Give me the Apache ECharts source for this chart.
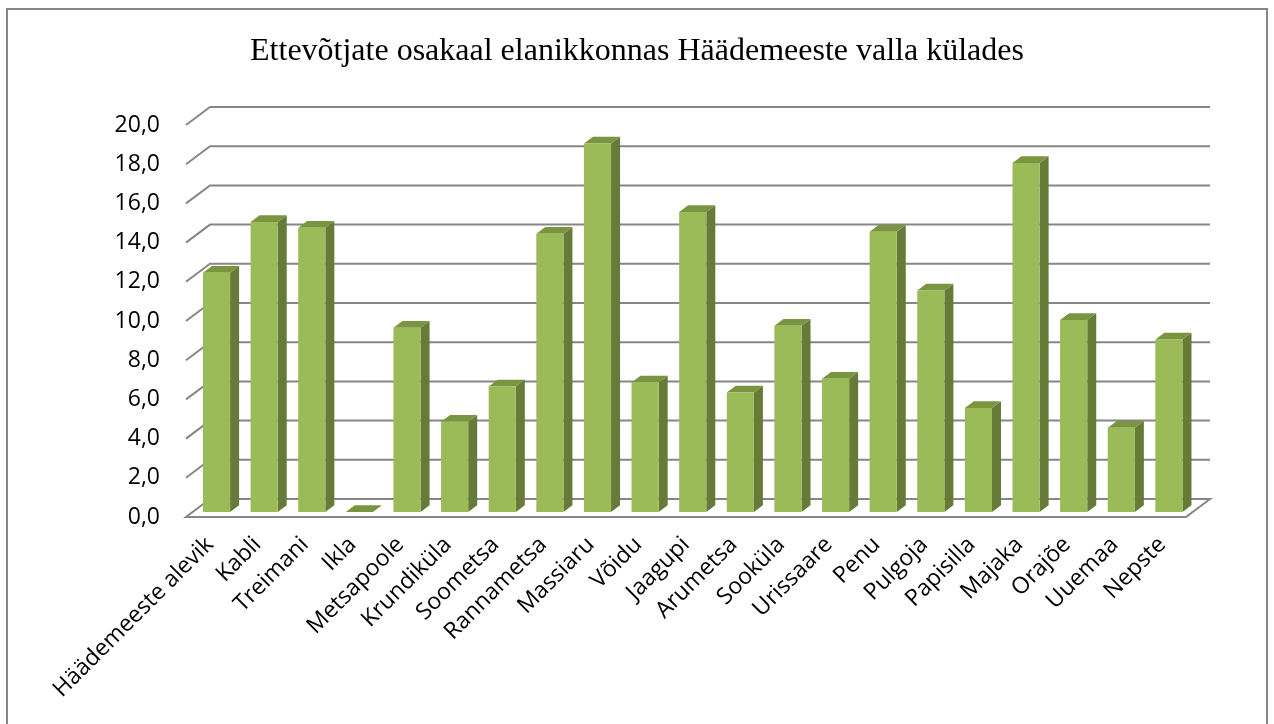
<!DOCTYPE html>
<html>
<head>
<meta charset="utf-8">
<script src="https://cdn.jsdelivr.net/npm/echarts@6/dist/echarts.min.js"></script>
<style>
  html, body { margin: 0; padding: 0; background: #fff; }
  #chart { width: 1274px; height: 724px; }
</style>
</head>
<body>
<div id="chart"></div>
<script>
// küla nimed ja ettevõtjate osakaal (%)
const villages = ['Häädemeeste alevik', 'Kabli', 'Treimani', 'Ikla', 'Metsapoole', 'Krundiküla', 'Soometsa',
  'Rannametsa', 'Massiaru', 'Võidu', 'Jaagupi', 'Arumetsa', 'Sooküla', 'Urissaare', 'Penu', 'Pulgoja',
  'Papisilla', 'Majaka', 'Orajõe', 'Uuemaa', 'Nepste'];
const shares = [12.2, 14.8, 14.5, 0, 9.4, 4.6, 6.4, 14.2, 18.8, 6.6, 15.3, 6.1, 9.5, 6.8, 14.3, 11.3,
  5.3, 17.8, 9.8, 4.3, 8.8];
const yTicks = [0, 2, 4, 6, 8, 10, 12, 14, 16, 18, 20];

const chart = echarts.init(document.getElementById('chart'));

// 3D look: depth of the floor and of the bars
const DEPTH_X = 24, DEPTH_Y = -18;
const BAR_OFF = 0.28;   // bar front plane, share of floor depth
const BAR_DEPTH = 0.375;

const option = {
  animation: false,
  title: {
    text: 'Ettevõtjate osakaal elanikkonnas Häädemeeste valla külades',
    left: 'center',
    top: 31,
    textStyle: { fontFamily: 'Liberation Serif', fontSize: 32, fontWeight: 'normal', color: '#000' }
  },
  graphic: [{
    type: 'rect',
    shape: { x: 7, y: 9, width: 1260, height: 730 },
    style: { fill: 'none', stroke: '#868686', lineWidth: 2 },
    silent: true
  }],
  grid: { left: 186, top: 125, width: 1000, height: 392 },
  xAxis: {
    type: 'category',
    data: villages,
    axisLine: { show: false },
    axisTick: { show: false },
    axisLabel: {
      interval: 0,
      rotate: 45,
      margin: 24,
      color: '#000',
      fontFamily: 'Open Sans',
      fontSize: 23
    }
  },
  yAxis: {
    type: 'value',
    min: 0,
    max: 20,
    interval: 2,
    axisLine: { show: false },
    axisTick: { show: false },
    splitLine: { show: false },
    axisLabel: {
      margin: 26,
      color: '#000',
      fontFamily: 'Open Sans',
      fontSize: 23,
      formatter: v => v.toFixed(1).replace('.', ',')
    }
  },
  series: [{
    // back wall gridlines + floor
    type: 'custom',
    silent: true,
    data: yTicks.map(v => [0, v]),
    renderItem: (params, api) => {
      const cs = params.coordSys;
      const y = api.coord([0, api.value(1)])[1];
      const x0 = cs.x, x1 = cs.x + cs.width;
      const line = {
        type: 'polyline',
        shape: { points: [[x0, y], [x0 + DEPTH_X, y + DEPTH_Y], [x1 + DEPTH_X, y + DEPTH_Y]] },
        style: { fill: 'none', stroke: '#868686', lineWidth: 2 }
      };
      if (api.value(1) !== 0) return line;
      return {
        type: 'polygon',
        shape: { points: [[x0, y], [x1, y], [x1 + DEPTH_X, y + DEPTH_Y], [x0 + DEPTH_X, y + DEPTH_Y]] },
        style: { fill: '#fff', stroke: '#868686', lineWidth: 2 }
      };
    },
    z: 1
  }, {
    type: 'custom',
    name: 'Ettevõtjate osakaal',
    data: shares.map((v, i) => [i, v]),
    renderItem: (params, api) => {
      const top = api.coord([api.value(0), api.value(1)]);
      const base = api.coord([api.value(0), 0]);
      const w = api.size([1, 0])[0] * 0.57;
      const ox = DEPTH_X * BAR_OFF, oy = DEPTH_Y * BAR_OFF;
      const dx = DEPTH_X * BAR_DEPTH, dy = DEPTH_Y * BAR_DEPTH;
      const l = top[0] - w / 2 + ox, r = top[0] + w / 2 + ox;
      const t = top[1] + oy, b = base[1] + oy;
      return {
        type: 'group',
        children: [{
          type: 'polygon',
          shape: { points: [[r, t], [r + dx, t + dy], [r + dx, b + dy], [r, b]] },
          style: { fill: '#677B38' }
        }, {
          type: 'polygon',
          shape: { points: [[l, t], [l + dx, t + dy], [r + dx, t + dy], [r, t]] },
          style: { fill: '#7A9540' }
        }, {
          type: 'rect',
          shape: { x: l, y: t, width: r - l, height: b - t },
          style: { fill: '#9BBB59' }
        }]
      };
    },
    z: 2
  }]
};

chart.setOption(option);
window.addEventListener('resize', () => chart.resize());
</script>
</body>
</html>
